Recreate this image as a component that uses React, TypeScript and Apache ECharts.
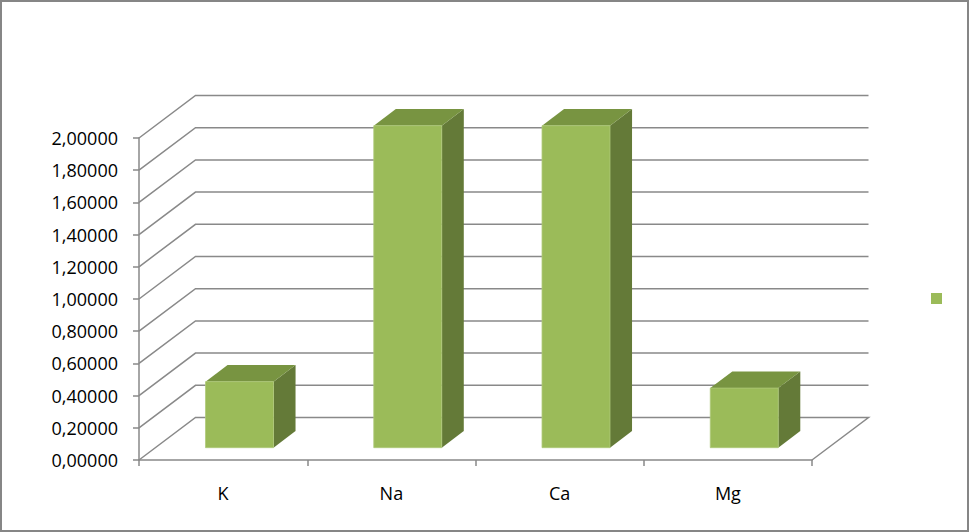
import React, { useEffect, useRef } from "react";
import * as echarts from "echarts";

const categories = ["K", "Na", "Ca", "Mg"];
const values = [0.41, 2.0, 2.0, 0.37];
const yTicks = [0, 0.2, 0.4, 0.6, 0.8, 1.0, 1.2, 1.4, 1.6, 1.8, 2.0];
const seriesName = "Series1";

const DEPTH_X = 56.5;
const DEPTH_Y = -42.5;
const FRONT_F = 0.29;
const BACK_F = 0.68;
const GRID_COLOR = "#898989";

export default function App() {
  const ref = useRef<HTMLDivElement>(null);
  useEffect(() => {
    document.body.style.margin = "0";
    const chart = echarts.init(ref.current!, null, { renderer: "svg" });
    const option: any = {
      animation: false,
      backgroundColor: "#ffffff",
      grid: { left: 139, right: 157, top: 138, bottom: 72 },
      legend: {
        data: [{ name: seriesName, icon: "rect", itemStyle: { color: "#9BBB59" } }],
        left: 931,
        top: 293,
        padding: 0,
        itemWidth: 11,
        itemHeight: 11,
        formatter: () => "",
        selectedMode: false,
      },
      xAxis: [
        {
          type: "category",
          data: categories,
          boundaryGap: true,
          axisLine: { show: true, lineStyle: { color: GRID_COLOR, width: 1.5 } },
          axisTick: { show: true, length: 6, lineStyle: { color: GRID_COLOR, width: 1.5 } },
          axisLabel: { margin: 24, fontSize: 18, color: "#000", fontFamily: "Open Sans" },
          splitLine: { show: false },
        },
        { type: "value", min: 0, max: 4, show: false },
      ],
      yAxis: {
        type: "value",
        min: 0,
        max: 2,
        interval: 0.2,
        axisLine: { show: true, lineStyle: { color: GRID_COLOR, width: 1.5 } },
        axisTick: { show: true, length: 6, lineStyle: { color: GRID_COLOR, width: 1.5 } },
        axisLabel: {
          margin: 21,
          fontSize: 18,
          color: "#000",
          fontFamily: "Open Sans",
          formatter: (v: number) => v.toFixed(5).replace(".", ","),
        },
        splitLine: { show: false },
      },
      graphic: [
        {
          type: "rect",
          shape: { x: 1, y: 1, width: 967, height: 530 },
          style: { fill: "none", stroke: "#868686", lineWidth: 2 },
          silent: true,
        },
      ],
      series: [
        {
          type: "custom",
          name: "grid3d",
          xAxisIndex: 1,
          yAxisIndex: 0,
          data: yTicks.map((v) => [0, v]),
          encode: { x: 0, y: 1 },
          z: 1,
          silent: true,
          renderItem: (params: any, api: any) => {
            const v = api.value(1);
            const fl = api.coord([0, v]);
            const fr = api.coord([4, v]);
            const bl = [fl[0] + DEPTH_X, fl[1] + DEPTH_Y];
            const br = [fr[0] + DEPTH_X, fr[1] + DEPTH_Y];
            const pts = v === 0 ? [fl, bl, br, fr] : [fl, bl, br];
            return {
              type: "polyline",
              shape: { points: pts },
              style: { fill: "none", stroke: GRID_COLOR, lineWidth: 1.5 },
            };
          },
        },
        {
          type: "custom",
          name: seriesName,
          xAxisIndex: 1,
          yAxisIndex: 0,
          data: values.map((v, i) => [i + 0.5, v]),
          encode: { x: 0, y: 1 },
          z: 3,
          itemStyle: { color: "#9BBB59" },
          renderItem: (params: any, api: any) => {
            const x = api.value(0);
            const v = api.value(1);
            const base = api.coord([x, 0]);
            const top = api.coord([x, v]);
            const hw = api.size([1, 0])[0] * 0.202;
            const fx = DEPTH_X * FRONT_F;
            const fy = DEPTH_Y * FRONT_F;
            const bx = DEPTH_X * BACK_F;
            const by = DEPTH_Y * BACK_F;
            const ftl = [base[0] - hw + fx, top[1] + fy];
            const ftr = [base[0] + hw + fx, top[1] + fy];
            const fbr = [base[0] + hw + fx, base[1] + fy];
            const fbl = [base[0] - hw + fx, base[1] + fy];
            const btl = [base[0] - hw + bx, top[1] + by];
            const btr = [base[0] + hw + bx, top[1] + by];
            const bbr = [base[0] + hw + bx, base[1] + by];
            return {
              type: "group",
              children: [
                {
                  type: "polygon",
                  shape: { points: [ftr, btr, bbr, fbr] },
                  style: { fill: "#647A38" },
                },
                {
                  type: "polygon",
                  shape: { points: [ftl, ftr, btr, btl] },
                  style: { fill: "#789441" },
                },
                {
                  type: "polygon",
                  shape: { points: [ftl, ftr, fbr, fbl] },
                  style: { fill: "#9BBB59", stroke: "#AFC97A", lineWidth: 0.8 },
                },
              ],
            };
          },
        },
      ],
    };
    chart.setOption(option);
    return () => chart.dispose();
  }, []);
  return <div ref={ref} style={{ width: 969, height: 532 }} />;
}
